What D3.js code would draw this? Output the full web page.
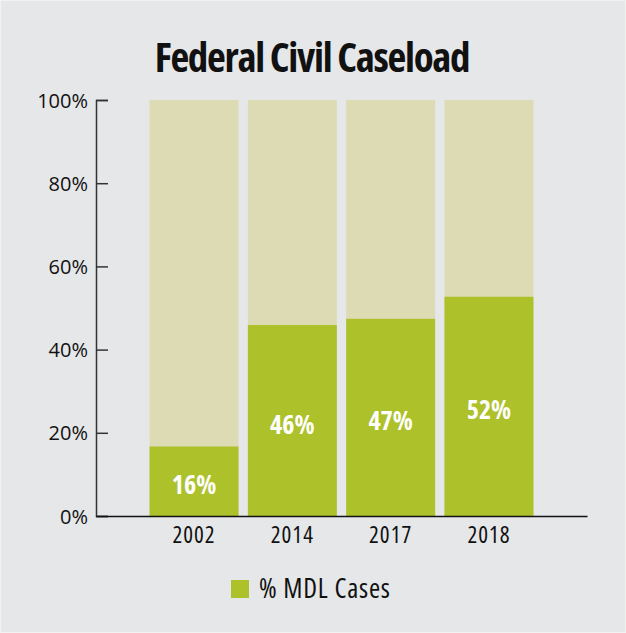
<!DOCTYPE html>
<html>
<head>
<meta charset="utf-8">
<script src="https://cdn.jsdelivr.net/npm/d3@7"></script>
<style>
  body { margin: 0; background: #e6e7e9; }
  .narrow { font-family: "Open Sans", sans-serif; font-stretch: 75%; }
  .ylab { font-family: "Open Sans", sans-serif; }
</style>
</head>
<body>
<svg id="chart"></svg>
<script>
const years = ["2002", "2014", "2017", "2018"];
const mdlShare = [16.7, 45.9, 47.4, 52.7];
const mdlLabels = ["16%", "46%", "47%", "52%"];
const yTicks = [0, 20, 40, 60, 80, 100];
const legendLabel = "% MDL Cases";
const chartTitle = "Federal Civil Caseload";

const width = 626, height = 633;
const margin = {top: 100, right: 39, bottom: 117, left: 96};
const plotWidth = width - margin.left - margin.right,
      plotHeight = height - margin.top - margin.bottom;

const svg = d3.select("#chart")
    .attr("width", width)
    .attr("height", height);

svg.append("rect")
    .attr("x", 0.5).attr("y", 0.5)
    .attr("width", width - 1).attr("height", height - 1)
    .attr("fill", "#e6e7e9")
    .attr("stroke", "#f2f2f3");

svg.append("text")
    .attr("class", "narrow")
    .attr("x", 312)
    .attr("y", 72)
    .attr("text-anchor", "middle")
    .style("font-size", "41px")
    .style("font-weight", "bold")
    .style("letter-spacing", "-1.3px")
    .attr("fill", "#111")
    .text(chartTitle);

const g = svg.append("g")
    .attr("transform", "translate(" + margin.left + "," + margin.top + ")");

const x = d3.scaleBand()
    .domain(years)
    .range([0, plotWidth])
    .paddingInner(0.095)
    .paddingOuter(0.545);

const y = d3.scaleLinear()
    .domain([0, 100])
    .range([plotHeight, 0]);

// background (100%) bars
g.selectAll(".bar-total")
    .data(years)
    .enter().append("rect")
    .attr("class", "bar-total")
    .attr("x", function (d) { return x(d); })
    .attr("y", y(100))
    .attr("width", x.bandwidth())
    .attr("height", y(0) - y(100))
    .attr("fill", "#dddbb3");

g.selectAll(".bar-mdl")
    .data(mdlShare)
    .enter().append("rect")
    .attr("class", "bar-mdl")
    .attr("x", function (d, i) { return x(years[i]); })
    .attr("y", function (d) { return y(d); })
    .attr("width", x.bandwidth())
    .attr("height", function (d) { return y(0) - y(d); })
    .attr("fill", "#adc12a");

g.selectAll(".bar-label")
    .data(mdlShare)
    .enter().append("text")
    .attr("class", "bar-label narrow")
    .attr("x", function (d, i) { return x(years[i]) + x.bandwidth() / 2; })
    .attr("y", function (d) { return y(d / 2) + 13; })
    .attr("text-anchor", "middle")
    .style("font-size", "26px")
    .style("font-weight", "bold")
    .attr("fill", "#fff")
    .text(function (d, i) { return mdlLabels[i]; });

// y axis
const yAxis = g.append("g")
    .call(d3.axisRight(y).tickValues(yTicks).tickSize(12)
        .tickFormat(function (d) { return d + "%"; }));
yAxis.select(".domain").attr("stroke", "#333").attr("stroke-width", 1.5);
yAxis.selectAll(".tick line").attr("stroke", "#333").attr("stroke-width", 1.5);
yAxis.selectAll(".tick text")
    .attr("class", "ylab")
    .attr("x", -8)
    .attr("dy", "0.35em")
    .attr("text-anchor", "end")
    .style("font-size", "20px")
    .attr("fill", "#111");

// x axis
const xAxis = g.append("g")
    .attr("transform", "translate(0," + plotHeight + ")")
    .call(d3.axisBottom(x).tickSize(0).tickPadding(11));
xAxis.select(".domain").attr("stroke", "#111").attr("stroke-width", 1.5);
xAxis.selectAll(".tick text")
    .attr("class", "narrow")
    .attr("dy", "0.71em")
    .style("font-size", "23px")
    .style("letter-spacing", "1px")
    .attr("fill", "#111");

// legend
const legend = svg.append("g")
    .attr("transform", "translate(231,580)");
legend.append("rect")
    .attr("width", 18)
    .attr("height", 18)
    .attr("fill", "#adc12a");
legend.append("text")
    .attr("class", "narrow")
    .attr("x", 28)
    .attr("y", 17.5)
    .style("font-size", "27px")
    .style("letter-spacing", "0.8px")
    .attr("fill", "#111")
    .text(legendLabel);
</script>
</body>
</html>
